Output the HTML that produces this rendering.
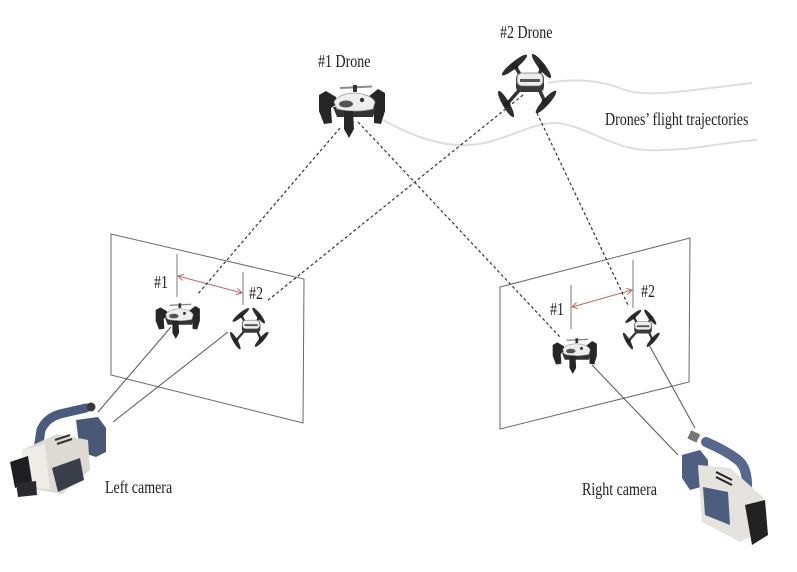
<!DOCTYPE html>
<html><head><meta charset="utf-8">
<style>
html,body{margin:0;padding:0;background:#fff;}
svg{display:block;}
text{font-family:"Liberation Serif","DejaVu Serif",serif;font-size:14px;fill:#1e1e1e;}
</style></head>
<body>
<svg width="797" height="572" viewBox="0 0 797 572" xmlns="http://www.w3.org/2000/svg">
<defs>
  <g id="d1">
    <line x1="22" y1="5" x2="54" y2="3.5" stroke="#8a8a8a" stroke-width="2"/>
    <rect x="35" y="2" width="4" height="7" fill="#333"/>
    <path d="M18,14 L8,8 L1,12 L1,28 L6,41 L14,40 L13,25 L19,21 Z" fill="#262626"/>
    <path d="M50,14 L60,6 L67,10 L67,28 L63,41 L56,40 L56,24 L50,21 Z" fill="#262626"/>
    <path d="M15,24 L58,24 L55,34 L19,34 Z" fill="#333"/>
    <path d="M16,19 Q20,11 36,10 Q53,11 57,19 L55,26 Q38,30 19,26 Z" fill="#eeeeee" stroke="#9a9a9a" stroke-width="0.8"/>
    <ellipse cx="28" cy="21" rx="7" ry="3.5" fill="#555"/>
    <circle cx="44" cy="17" r="2.2" fill="#333"/>
    <path d="M26,28 L35,28 L36,46 L31,55 L26,46 Z" fill="#262626"/>
  </g>
  <g id="d2">
    <line x1="27" y1="28" x2="20" y2="16" stroke="#333" stroke-width="3.5"/>
    <line x1="43" y1="28" x2="47" y2="17" stroke="#333" stroke-width="3.5"/>
    <line x1="27" y1="37" x2="12" y2="54" stroke="#333" stroke-width="3.5"/>
    <line x1="43" y1="37" x2="50" y2="52" stroke="#333" stroke-width="3.5"/>
    <ellipse cx="19.5" cy="15" rx="16" ry="3.4" transform="rotate(-39 19.5 15)" fill="#2e2e2e"/>
    <ellipse cx="46.5" cy="16" rx="15" ry="3.4" transform="rotate(52 46.5 16)" fill="#2e2e2e"/>
    <ellipse cx="11" cy="54" rx="15" ry="3.4" transform="rotate(60 11 54)" fill="#2e2e2e"/>
    <ellipse cx="51" cy="52" rx="15" ry="3.4" transform="rotate(-48 51 52)" fill="#2e2e2e"/>
    <circle cx="20" cy="16" r="3.5" fill="#222"/>
    <circle cx="47" cy="17" r="3.5" fill="#222"/>
    <circle cx="12" cy="54" r="3.5" fill="#222"/>
    <circle cx="50" cy="52" r="3.5" fill="#222"/>
    <rect x="21" y="23" width="28" height="19" rx="5" fill="#3a3a3a"/>
    <rect x="22" y="23" width="26" height="13" rx="5" fill="#eeeeee" stroke="#777" stroke-width="0.8"/>
    <rect x="25" y="29" width="20" height="3" fill="#555"/>
  </g>
</defs>

<!-- trajectories -->
<path d="M548,83 C575,78 600,80 625,90 C650,98 690,90 752,83" fill="none" stroke="#dedede" stroke-width="2"/>
<path d="M383,120 C410,135 440,147 470,145 C505,142 525,125 552,123 C580,122 610,148 645,150 C690,152 720,142 757,140" fill="none" stroke="#dedede" stroke-width="2"/>

<!-- image planes -->
<polygon points="111,234 304,279 303,423 111,375" fill="none" stroke="#6a6a6a" stroke-width="1"/>
<polygon points="500,287 690,238 689,382 500,429" fill="none" stroke="#6a6a6a" stroke-width="1"/>

<!-- ticks -->
<line x1="177" y1="254" x2="177" y2="297" stroke="#7a7a7a" stroke-width="1"/>
<line x1="243" y1="272" x2="243" y2="305" stroke="#7a7a7a" stroke-width="1"/>
<line x1="571" y1="285" x2="571" y2="329" stroke="#7a7a7a" stroke-width="1"/>
<line x1="633" y1="260" x2="633" y2="308" stroke="#7a7a7a" stroke-width="1"/>

<!-- red double arrows -->
<g stroke="#c06a6a" stroke-width="1.1" fill="none">
  <line x1="178" y1="276" x2="242" y2="293"/>
  <polyline points="184,274.5 178,276 182.5,280.5"/>
  <polyline points="236,294.5 242,293 237.5,288.5"/>
  <line x1="572" y1="307" x2="632" y2="290"/>
  <polyline points="576.5,302.5 572,307 578,308.5"/>
  <polyline points="626,288.5 632,290 627.5,294.5"/>
</g>

<!-- dotted lines -->
<g stroke="#333" stroke-width="1.2" stroke-dasharray="3,2.5" fill="none">
  <line x1="340" y1="128" x2="197" y2="295"/>
  <line x1="358" y1="122" x2="560" y2="337"/>
  <line x1="523" y1="95" x2="267" y2="301"/>
  <line x1="537" y1="113" x2="628" y2="305"/>
</g>

<!-- solid camera rays -->
<g stroke="#555" stroke-width="1" fill="none">
  <line x1="98" y1="412" x2="171" y2="327"/>
  <line x1="113" y1="422" x2="228" y2="332"/>
  <line x1="592" y1="365" x2="678" y2="455"/>
  <line x1="648" y1="343" x2="695" y2="428"/>
</g>

<!-- drones -->
<use href="#d1" transform="translate(318,83)"/>
<use href="#d2" transform="translate(495,50)"/>
<use href="#d1" transform="translate(155,302) scale(0.67)"/>
<use href="#d2" transform="translate(228,305) scale(0.66)"/>
<use href="#d1" transform="translate(552,337) scale(0.67)"/>
<use href="#d2" transform="translate(621,307) scale(0.63)"/>

<!-- left camera -->
<g>
  <path d="M37,455 L41,430 Q46,418 60,414 L86,408" fill="none" stroke="#4b5b7e" stroke-width="9" stroke-linecap="round"/>
  <circle cx="91" cy="407" r="4.5" fill="#3a3a3a"/>
  <polygon points="76,420 98,417 106,428 106,452 96,457 80,452" fill="#4a5878"/>
  <polygon points="22,450 57,434 88,440 90,470 62,494 27,488" fill="#dcdad2"/>
  <polygon points="22,450 45,444 50,489 27,488" fill="#eeece6"/>
  <polygon points="52,468 80,458 84,480 58,492" fill="#3a3e48"/>
  <line x1="55" y1="440" x2="70" y2="435" stroke="#333" stroke-width="2"/>
  <line x1="57" y1="444" x2="72" y2="439" stroke="#333" stroke-width="2"/>
  <polygon points="10,462 28,456 32,481 15,488" fill="#1e1e22"/>
  <polygon points="16,483 36,481 37,495 18,497" fill="#2a2a2e"/>
</g>

<!-- right camera -->
<g>
  <path d="M706,442 Q725,450 738,460 Q748,468 747,490" fill="none" stroke="#56688c" stroke-width="10" stroke-linecap="round"/>
  <rect x="689" y="432" width="10" height="9" fill="#777" transform="rotate(25 694 436)"/>
  <polygon points="682,455 700,450 708,460 708,485 690,490 682,478" fill="#4f5f82"/>
  <polygon points="698,465 730,468 763,497 765,530 740,542 702,522" fill="#e4e3de"/>
  <polygon points="703,487 728,492 730,525 705,515" fill="#4d5d80"/>
  <line x1="716" y1="472" x2="732" y2="480" stroke="#222" stroke-width="2"/>
  <line x1="716" y1="477" x2="732" y2="485" stroke="#222" stroke-width="2"/>
  <polygon points="745,505 765,500 768,535 752,545" fill="#222"/>
</g>

<!-- labels -->
<text transform="translate(318,67) scale(1,1.28)" x="0" y="0">#1 Drone</text>
<text transform="translate(500,38) scale(1,1.28)" x="0" y="0">#2 Drone</text>
<text transform="translate(605,125) scale(1,1.28)" x="0" y="0">Drones’ flight trajectories</text>
<text transform="translate(105,493) scale(1,1.28)" x="0" y="0">Left camera</text>
<text transform="translate(582,495) scale(1,1.28)" x="0" y="0">Right camera</text>
<text transform="translate(154,288) scale(1,1.28)" x="0" y="0">#1</text>
<text transform="translate(249,299) scale(1,1.28)" x="0" y="0">#2</text>
<text transform="translate(550,315) scale(1,1.28)" x="0" y="0">#1</text>
<text transform="translate(641,297) scale(1,1.28)" x="0" y="0">#2</text>
</svg>
</body></html>
